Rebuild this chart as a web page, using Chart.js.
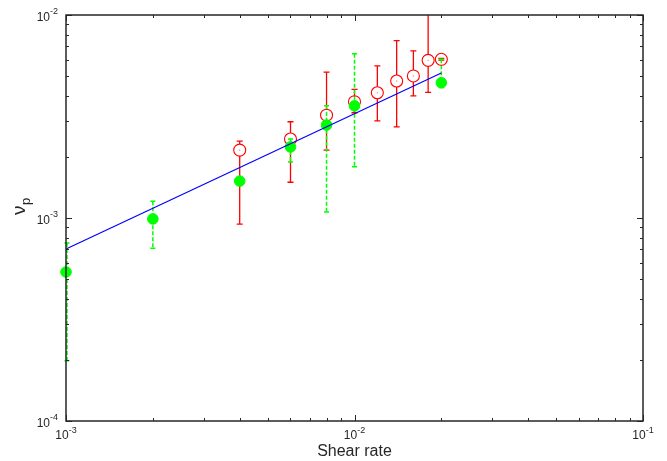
<!DOCTYPE html>
<html>
<head>
<meta charset="utf-8">
<script src="https://cdn.jsdelivr.net/npm/chart.js@4/dist/chart.umd.min.js"></script>
<style>
html,body{margin:0;padding:0;background:#fff;}
canvas{display:block;}
</style>
</head>
<body>
<canvas id="c" width="667" height="461"></canvas>
<script>
// Green series (filled dots, dashed error bars)
const shearRate = [0.001, 0.002, 0.004, 0.006, 0.008, 0.01, 0.02];
const greenNu   = [5.42e-4, 9.9e-4, 1.52e-3, 2.24e-3, 2.87e-3, 3.57e-3, 4.64e-3];
const greenLo   = [1.98e-4, 7.1e-4, 1.48e-3, 1.89e-3, 1.07e-3, 1.79e-3, 4.4e-3];
const greenHi   = [7.53e-4, 1.21e-3, 1.57e-3, 2.45e-3, 3.57e-3, 6.45e-3, 6.05e-3];
// Red series (open circles, solid error bars)
const redRate = [0.004, 0.006, 0.008, 0.01, 0.012, 0.014, 0.016, 0.018, 0.02];
const redNu   = [2.16e-3, 2.45e-3, 3.21e-3, 3.74e-3, 4.14e-3, 4.73e-3, 5.01e-3, 5.98e-3, 6.05e-3];
const redLo   = [9.33e-4, 1.50e-3, 2.16e-3, 3.3e-3, 3.01e-3, 2.81e-3, 4.00e-3, 4.16e-3, 6.0e-3];
const redHi   = [2.39e-3, 2.98e-3, 5.23e-3, 4.30e-3, 5.61e-3, 7.47e-3, 6.65e-3, 1.2e-2, 6.12e-3];
// Fitted power-law line
const fitRate = [0.001, 0.02];
const fitNu   = [7.03e-4, 5.18e-3];
// Axis decades / tick labels
const xDecades = [1e-3, 1e-2, 1e-1];
const xTickExp = ['-3', '-2', '-1'];
const yDecades = [1e-4, 1e-3, 1e-2];
const yTickExp = ['-4', '-3', '-2'];
const xTitle = 'Shear rate';
const yTitleMain = 'ν';
const yTitleSub = 'p';

const pts = (xs, ys) => xs.map((x, i) => ({x: x, y: ys[i]}));

const AXIS = '#262626';
const FONT = '"Liberation Sans", Arial, Helvetica, sans-serif';

function minorTicks(decades) {
  const out = [];
  for (let d = 0; d < decades.length - 1; d++) {
    for (let m = 2; m <= 9; m++) out.push(decades[d] * m);
  }
  return out;
}

const errorBars = {
  id: 'errorBars',
  beforeDatasetsDraw(chart) {
    const ctx = chart.ctx, xs = chart.scales.x, ys = chart.scales.y, a = chart.chartArea;
    ctx.save();
    ctx.beginPath();
    ctx.rect(a.left - 2, a.top, a.right - a.left + 4, a.bottom - a.top);
    ctx.clip();
    // red solid bars (break inside circle)
    ctx.strokeStyle = 'rgb(255,0,0)';
    ctx.lineWidth = 1.3;
    ctx.setLineDash([]);
    redRate.forEach((r, i) => {
      const px = xs.getPixelForValue(r);
      const yc = ys.getPixelForValue(redNu[i]);
      const yt = ys.getPixelForValue(redHi[i]);
      const yb = ys.getPixelForValue(redLo[i]);
      ctx.beginPath();
      if (yt < yc - 6) { ctx.moveTo(px, yt); ctx.lineTo(px, yc - 6); }
      if (yb > yc + 6) { ctx.moveTo(px, yc + 6); ctx.lineTo(px, yb); }
      ctx.moveTo(px - 3, yt); ctx.lineTo(px + 3, yt);
      ctx.moveTo(px - 3, yb); ctx.lineTo(px + 3, yb);
      ctx.stroke();
      ctx.fillStyle = 'rgb(255,80,80)';
      ctx.fillRect(px - 0.5, yc - 0.5, 1, 1);
    });
    // green dashed bars
    ctx.strokeStyle = 'rgb(0,255,0)';
    ctx.lineWidth = 1.5;
    shearRate.forEach((r, i) => {
      const px = xs.getPixelForValue(r) + (i === 0 ? 1 : 0);
      const yt = ys.getPixelForValue(greenHi[i]);
      const yb = ys.getPixelForValue(greenLo[i]);
      ctx.setLineDash([4, 2]);
      ctx.beginPath();
      ctx.moveTo(px, yt); ctx.lineTo(px, yb);
      ctx.stroke();
      ctx.setLineDash([]);
      ctx.beginPath();
      ctx.moveTo(px - 2.5, yt); ctx.lineTo(px + 2.5, yt);
      ctx.moveTo(px - 2.5, yb); ctx.lineTo(px + 2.5, yb);
      ctx.stroke();
    });
    ctx.restore();
  }
};

const frame = {
  id: 'frame',
  afterDraw(chart) {
    const ctx = chart.ctx, xs = chart.scales.x, ys = chart.scales.y, a = chart.chartArea;
    ctx.save();
    ctx.strokeStyle = AXIS;
    ctx.lineWidth = 1;
    const tick = (len, list, isX) => {
      list.forEach(v => {
        if (isX) {
          const px = Math.round(xs.getPixelForValue(v)) + 0.5;
          ctx.beginPath();
          ctx.moveTo(px, a.bottom); ctx.lineTo(px, a.bottom - len);
          ctx.moveTo(px, a.top); ctx.lineTo(px, a.top + len);
          ctx.stroke();
        } else {
          const py = Math.round(ys.getPixelForValue(v)) + 0.5;
          ctx.beginPath();
          ctx.moveTo(a.left, py); ctx.lineTo(a.left + len, py);
          ctx.moveTo(a.right, py); ctx.lineTo(a.right - len, py);
          ctx.stroke();
        }
      });
    };
    tick(6, xDecades, true);
    tick(3, minorTicks(xDecades), true);
    tick(6, yDecades, false);
    tick(3, minorTicks(yDecades), false);
    ctx.lineWidth = 1.5;
    ctx.strokeRect(a.left, a.top, a.right - a.left, a.bottom - a.top);

    ctx.fillStyle = AXIS;
    ctx.textBaseline = 'alphabetic';
    const big = '12px ' + FONT, small = '9px ' + FONT;
    xDecades.forEach((v, i) => {
      const px = xs.getPixelForValue(v);
      ctx.font = big; const w1 = ctx.measureText('10').width;
      ctx.font = small; const w2 = ctx.measureText(xTickExp[i]).width;
      const x0 = px - (w1 + w2) / 2;
      ctx.font = big; ctx.textAlign = 'left';
      ctx.fillText('10', x0, a.bottom + 18);
      ctx.font = small;
      ctx.fillText(xTickExp[i], x0 + w1, a.bottom + 12);
    });
    yDecades.forEach((v, i) => {
      const py = ys.getPixelForValue(v);
      ctx.font = small; const w2 = ctx.measureText(yTickExp[i]).width;
      ctx.font = big; const w1 = ctx.measureText('10').width;
      const xr = a.left - 8;
      ctx.textAlign = 'left';
      ctx.font = big;
      ctx.fillText('10', xr - w2 - w1, py + 5.5);
      ctx.font = small;
      ctx.fillText(yTickExp[i], xr - w2, py - 1);
    });
    ctx.font = '16px ' + FONT;
    ctx.textAlign = 'center';
    ctx.fillText(xTitle, (a.left + a.right) / 2, 456);
    ctx.save();
    ctx.translate(25, 215);
    ctx.rotate(-Math.PI / 2);
    ctx.textAlign = 'left';
    ctx.font = '19px ' + FONT;
    const wn = ctx.measureText(yTitleMain).width;
    ctx.fillText(yTitleMain, 0, 0);
    ctx.font = '13px ' + FONT;
    ctx.fillText(yTitleSub, wn + 0.5, 5);
    ctx.restore();
    ctx.restore();
  }
};

new Chart(document.getElementById('c'), {
  type: 'scatter',
  data: {
    datasets: [
      {
        type: 'line',
        data: pts(fitRate, fitNu),
        borderColor: 'rgb(0,0,255)',
        borderWidth: 1.2,
        pointRadius: 0,
        fill: false,
        clip: false
      },
      {
        data: pts(shearRate, greenNu),
        backgroundColor: 'rgb(0,255,0)',
        borderColor: 'rgb(0,255,0)',
        borderWidth: 1,
        pointRadius: 5.3,
        clip: false
      },
      {
        data: pts(redRate, redNu),
        backgroundColor: 'rgba(0,0,0,0)',
        borderColor: 'rgb(255,0,0)',
        borderWidth: 1.1,
        pointRadius: 6,
        clip: false
      }
    ]
  },
  options: {
    responsive: false,
    devicePixelRatio: 1,
    animation: false,
    layout: { padding: { left: 66, right: 24, top: 15, bottom: 40 } },
    plugins: { legend: { display: false }, tooltip: { enabled: false } },
    scales: {
      x: { type: 'logarithmic', min: 1e-3, max: 1e-1, display: false },
      y: { type: 'logarithmic', min: 1e-4, max: 1e-2, display: false }
    }
  },
  plugins: [errorBars, frame]
});
</script>
</body>
</html>
